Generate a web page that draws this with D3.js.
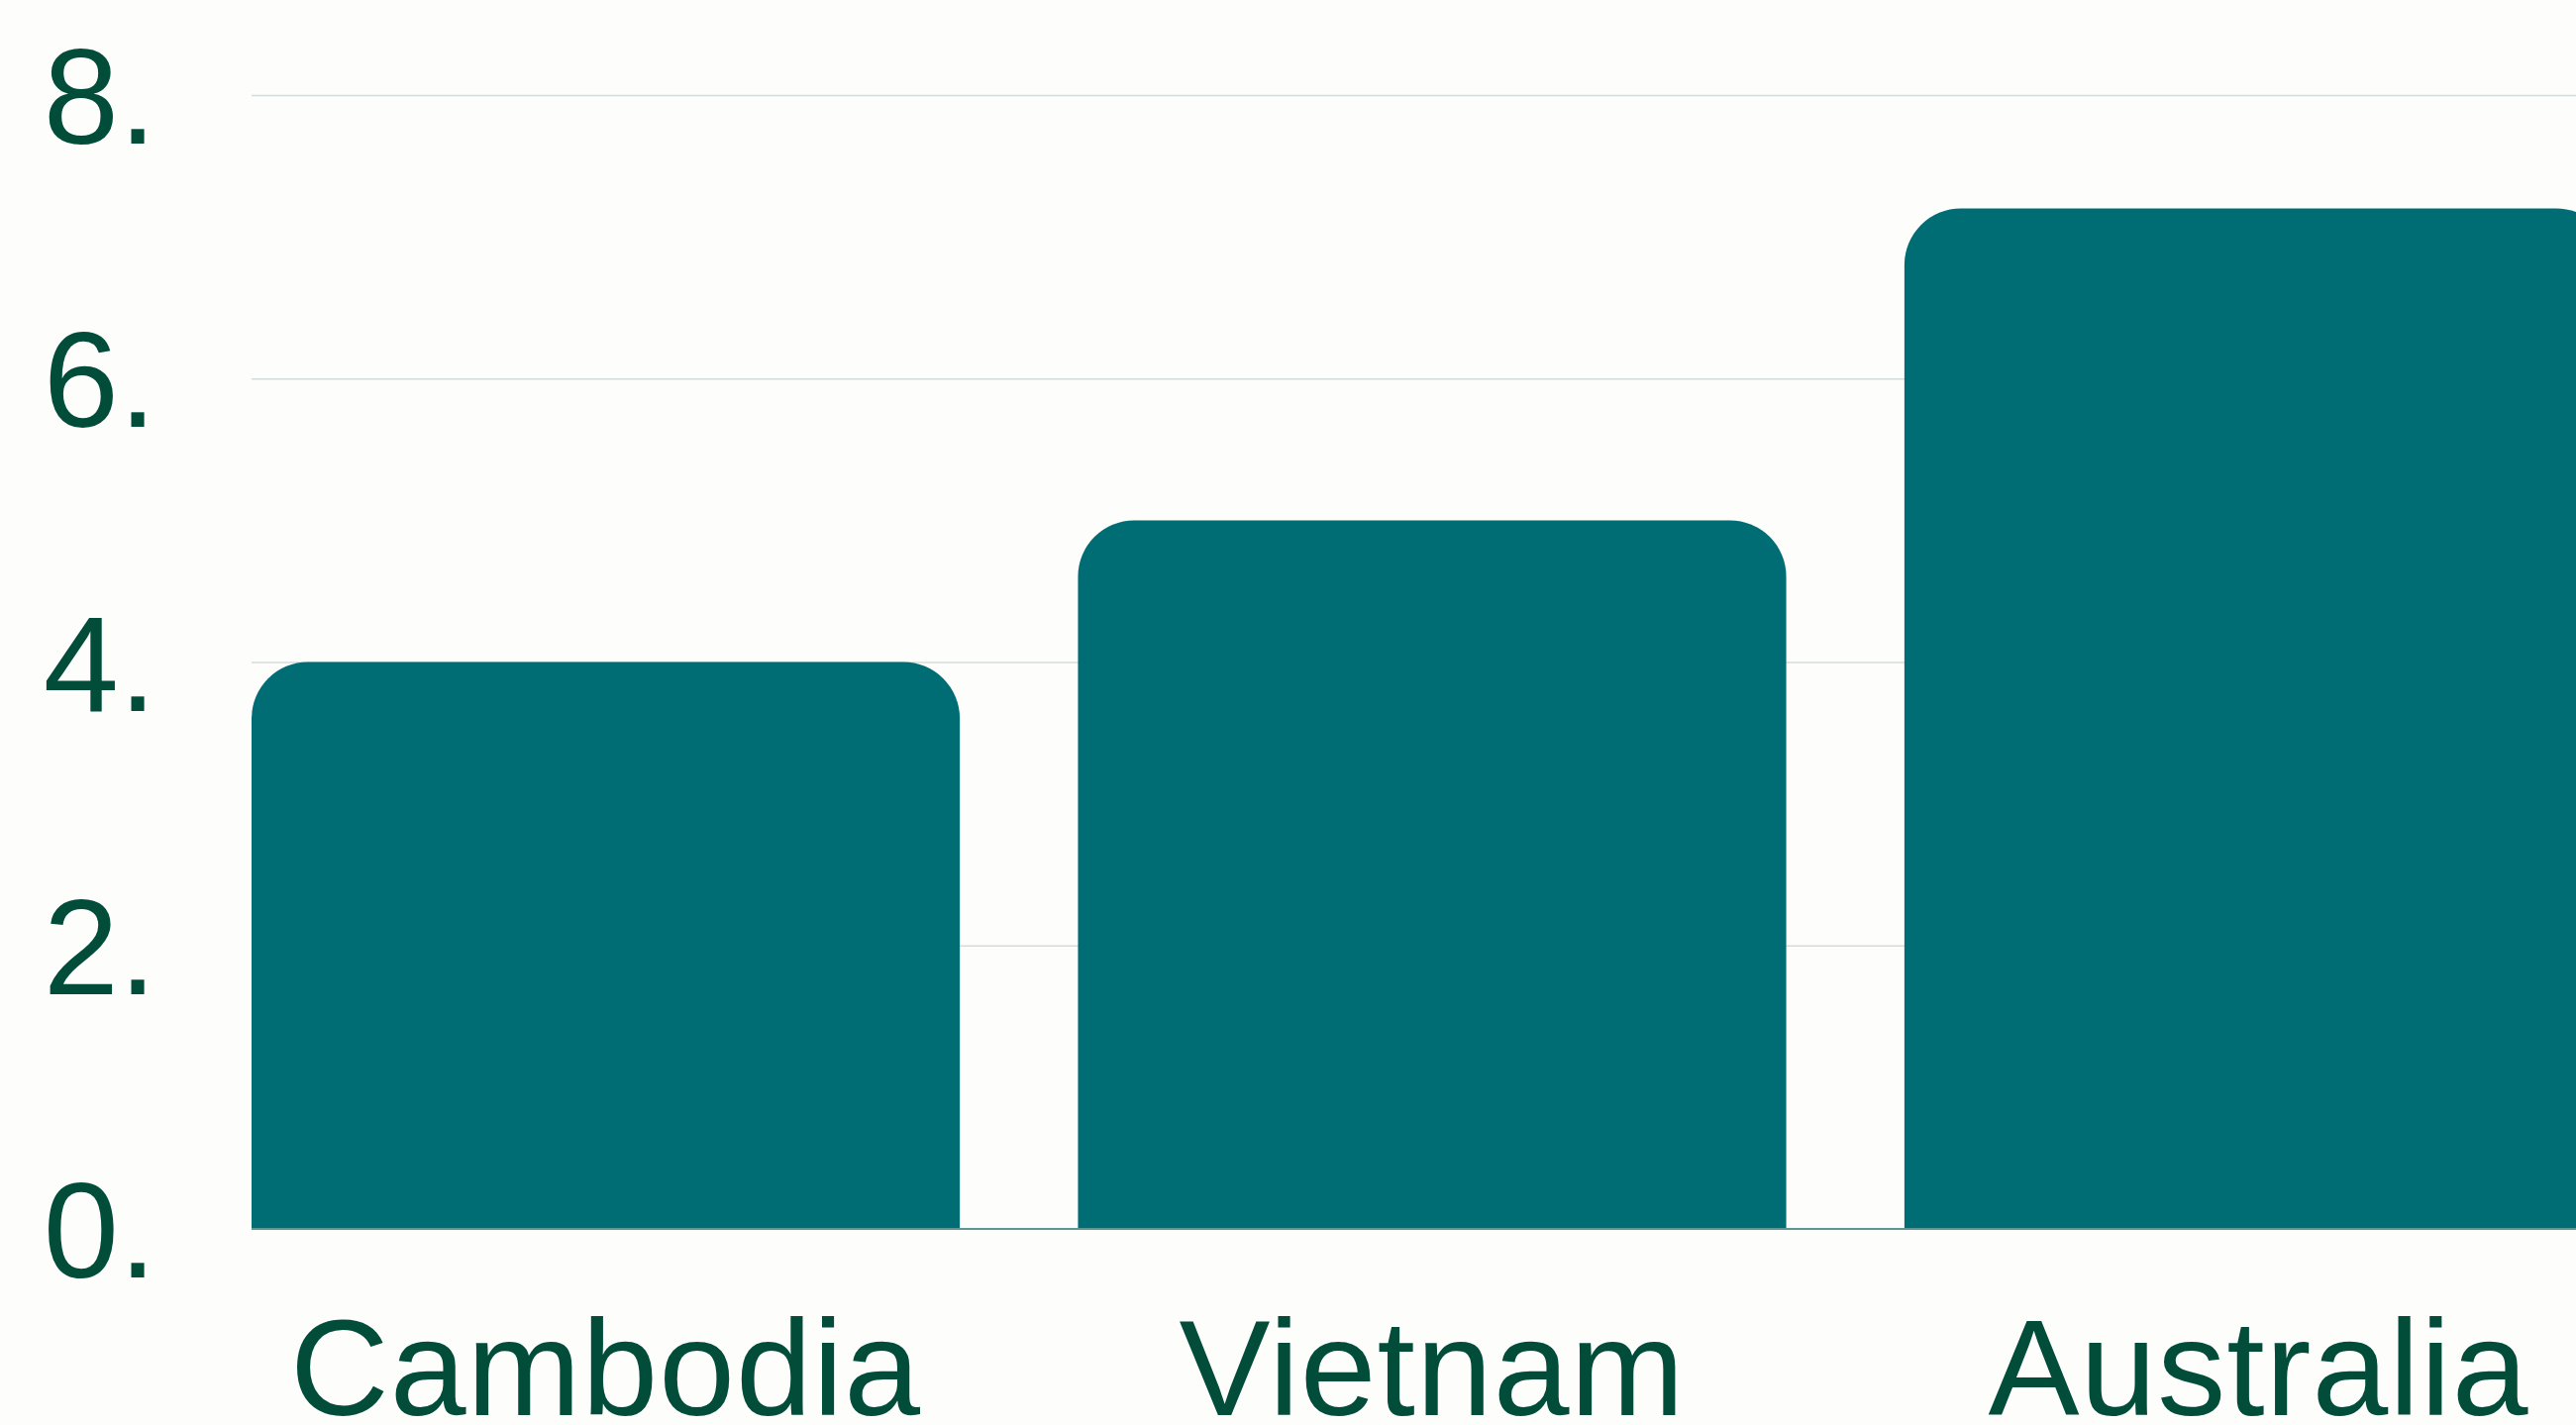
<!DOCTYPE html>
<html>
<head>
<meta charset="utf-8">
<script src="https://cdn.jsdelivr.net/npm/d3@7"></script>
<style>
  html, body { margin: 0; padding: 0; background: #fdfdfc; overflow: hidden; }
  svg { display: block; }
</style>
</head>
<body>
<svg width="2601" height="1439"></svg>
<script>
const countries = ['Cambodia', 'Vietnam', 'Australia']
const values = [4, 5, 7.2]
const yTicks = [0, 2, 4, 6, 8]

function main() {
  let svg = d3.select('svg'),
    left = 254,
    right = 2638,
    top = 96,
    bottom = 1241

  let xScale = d3.scaleBand().domain(countries).range([left, right]).paddingInner(0.143).paddingOuter(0),
    yScale = d3.scaleLinear().domain([0, 8]).range([bottom, top])

  let textColor = '#024d39',
    barColor = '#006c74'

  // gridlines
  svg.append('g')
    .selectAll('line')
    .data(yTicks.filter(d => d > 0))
    .enter()
    .append('line')
    .attr('x1', left)
    .attr('x2', right)
    .attr('y1', d => yScale(d) + 0.5)
    .attr('y2', d => yScale(d) + 0.5)
    .attr('stroke', '#d3dcda')
    .attr('stroke-width', 1.5)

  // y labels
  svg.append('g')
    .selectAll('text')
    .data(yTicks)
    .enter()
    .append('text')
    .attr('x', 158)
    .attr('y', d => yScale(d) + 49)
    .attr('text-anchor', 'end')
    .attr('font-family', 'Liberation Sans, Arial, sans-serif')
    .attr('font-size', 137)
    .attr('fill', textColor)
    .text(d => d + '.')

  // bars with rounded tops
  let r = 57
  svg.append('g')
    .selectAll('path')
    .data(values)
    .enter()
    .append('path')
    .attr('fill', barColor)
    .attr('d', function (d, i) {
      let x0 = xScale(countries[i]),
        x1 = x0 + xScale.bandwidth(),
        y0 = yScale(d),
        y1 = yScale(0)
      return 'M' + x0 + ',' + y1 +
        'V' + (y0 + r) +
        'A' + r + ',' + r + ' 0 0 1 ' + (x0 + r) + ',' + y0 +
        'H' + (x1 - r) +
        'A' + r + ',' + r + ' 0 0 1 ' + x1 + ',' + (y0 + r) +
        'V' + y1 + 'Z'
    })

  // baseline
  svg.append('line')
    .attr('x1', left)
    .attr('x2', right)
    .attr('y1', yScale(0))
    .attr('y2', yScale(0))
    .attr('stroke', '#5e9692')
    .attr('stroke-width', 2)

  // x labels
  svg.append('g')
    .selectAll('text')
    .data(countries)
    .enter()
    .append('text')
    .attr('x', d => xScale(d) + xScale.bandwidth() / 2)
    .attr('y', 1429)
    .attr('text-anchor', 'middle')
    .attr('font-family', 'Liberation Sans, Arial, sans-serif')
    .attr('font-size', 138)
    .attr('letter-spacing', 1)
    .attr('fill', textColor)
    .text(d => d)
}

main()
</script>
</body>
</html>
